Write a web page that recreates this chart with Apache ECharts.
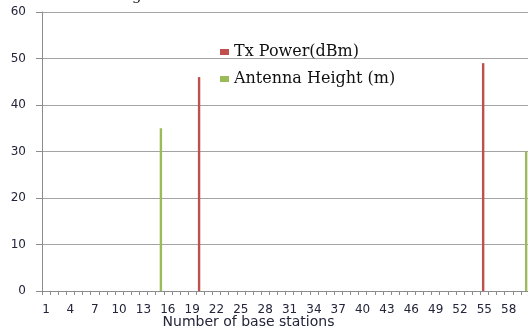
<!DOCTYPE html>
<html>
<head>
<meta charset="utf-8">
<script src="https://cdn.jsdelivr.net/npm/echarts@6/dist/echarts.min.js"></script>
<style>
  html, body { margin: 0; padding: 0; background: #fff; }
  #chart { width: 528px; height: 331px; }
</style>
</head>
<body>
<div id="chart"></div>
<script>
// Base station indices along the x axis
const stationCount = 60;
const stations = Array.from({ length: stationCount }, (_, i) => String(i + 1));

// Transmit power per station (dBm)
const txPowerStations = ['20', '55'];
const txPowerValues = [46, 49];

// Antenna height per station (m)
const antennaStations = ['15', '60'];
const antennaValues = [35, 30];

// Value axis ticks
const yMin = 0, yMax = 60, yStep = 10;

const toPairs = (keys, vals) => keys.map((k, i) => [k, vals[i]]);

const labelColor = '#24243a';
const chart = echarts.init(document.getElementById('chart'), null, { renderer: 'canvas' });

chart.setOption({
  animation: false,
  backgroundColor: '#ffffff',
  grid: { left: 42, top: 12, width: 487, height: 279, containLabel: false, outerBoundsMode: 'none' },
  legend: {
    orient: 'vertical',
    left: 215,
    top: 39,
    itemWidth: 9,
    itemHeight: 6,
    itemGap: 11,
    icon: 'rect',
    textStyle: { fontFamily: 'DejaVu Serif', fontSize: 16, color: '#111', lineHeight: 16 },
    data: ['Tx Power(dBm)', 'Antenna Height (m)']
  },
  xAxis: {
    type: 'category',
    data: stations,
    name: 'Number of base stations',
    nameLocation: 'middle',
    nameGap: 31,
    nameMoveOverlap: false,
    nameTextStyle: {
      fontFamily: 'DejaVu Sans', fontSize: 14, color: labelColor,
      verticalAlign: 'middle', padding: [0, 74, 0, 0]
    },
    axisLine: { lineStyle: { color: '#8c8c8c', width: 1 } },
    axisTick: { show: true, interval: 0, length: 4, lineStyle: { color: '#8c8c8c' } },
    axisLabel: { interval: 2, margin: 13, fontFamily: 'DejaVu Sans', fontSize: 12, color: labelColor },
    splitLine: { show: false }
  },
  yAxis: {
    type: 'value',
    min: yMin, max: yMax, interval: yStep,
    axisLine: { show: true, lineStyle: { color: '#8c8c8c', width: 1 } },
    axisTick: { show: true, length: 6, lineStyle: { color: '#8c8c8c' } },
    axisLabel: { margin: 16, fontFamily: 'DejaVu Sans', fontSize: 12, color: labelColor },
    splitLine: { show: true, lineStyle: { color: '#a3a3a3', width: 1 } }
  },
  series: [
    {
      name: 'Tx Power(dBm)',
      type: 'bar',
      data: toPairs(txPowerStations, txPowerValues),
      barWidth: 2.4,
      barGap: '0%',
      itemStyle: { color: '#c0504d' }
    },
    {
      name: 'Antenna Height (m)',
      type: 'bar',
      data: toPairs(antennaStations, antennaValues),
      barWidth: 2.4,
      itemStyle: { color: '#9bbb59' }
    }
  ],
  graphic: [
    {
      type: 'text',
      left: 132,
      top: -11,
      style: { text: 'g', font: '15px "DejaVu Serif"', fill: '#111' }
    }
  ]
});
</script>
</body>
</html>
